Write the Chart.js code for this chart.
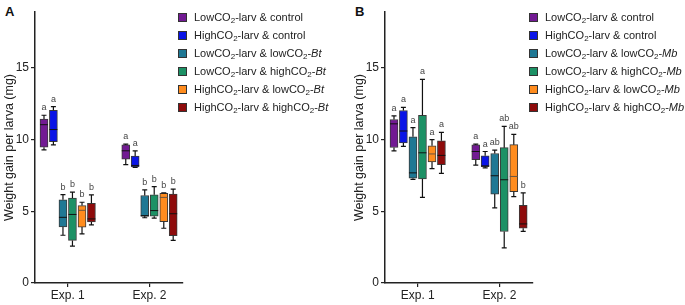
<!DOCTYPE html>
<html>
<head>
<meta charset="utf-8">
<script src="https://cdn.jsdelivr.net/npm/chart.js@4.4.0/dist/chart.umd.min.js"></script>
<style>
  body { margin: 0; background: #fff; font-family: "Liberation Sans", Arial, sans-serif; }
  #wrap { position: relative; width: 685px; height: 305px; overflow: hidden; }
  canvas { position: absolute; top: 0; }
  .tag { position: absolute; top: 4px; font-weight: bold; font-size: 13px; color: #111; }
  .legend { position: absolute; top: 8px; font-size: 11px; color: #222; }
  .legend div { height: 18px; line-height: 18px; white-space: nowrap; }
  .legend span.sq { display: inline-block; width: 7px; height: 7px; border: 1px solid #333; margin-right: 7px; vertical-align: -1px; }
  .legend sub { font-size: 8px; vertical-align: -2px; line-height: 0; }
</style>
</head>
<body>
<div id="wrap">
  <div class="tag" style="left:5px">A</div>
  <div class="tag" style="left:355px">B</div>
  <canvas id="chartA" width="195" height="305" style="left:0px"></canvas>
  <canvas id="chartB" width="195" height="305" style="left:350px"></canvas>
  <div class="legend" id="legA" style="left:178px"></div>
  <div class="legend" id="legB" style="left:529px"></div>
</div>
<script>
// categories and ticks
var categories = ["Exp. 1", "Exp. 2"];
var yTicks = [0, 5, 10, 15];
var yTitle = "Weight gain per larva (mg)";

// series (same order in both panels)
var seriesA = ["LowCO₂-larv & control", "HighCO₂-larv & control", "LowCO₂-larv & lowCO₂-Bt",
  "LowCO₂-larv & highCO₂-Bt", "HighCO₂-larv & lowCO₂-Bt", "HighCO₂-larv & highCO₂-Bt"];
var seriesB = ["LowCO₂-larv & control", "HighCO₂-larv & control", "LowCO₂-larv & lowCO₂-Mb",
  "LowCO₂-larv & highCO₂-Mb", "HighCO₂-larv & lowCO₂-Mb", "HighCO₂-larv & highCO₂-Mb"];
var colors = ["#721a93", "#0a14e6", "#1f7894", "#1c9165", "#ff8c1e", "#8e0b0b"];

// panel A box stats, one [Exp. 1, Exp. 2] pair per series
var aMin = [[9.28, 8.26], [9.63, 8.06], [3.33, 4.55], [2.57, 4.53], [3.43, 3.82], [4.05, 2.97]];
var aQ1  = [[9.47, 8.64], [9.86, 8.10], [3.91, 4.65], [2.97, 4.66], [3.90, 4.28], [4.26, 3.30]];
var aMed = [[11.04, 9.22], [10.7, 8.20], [4.58, 4.70], [4.78, 5.05], [5.07, 5.97], [4.47, 4.83]];
var aQ3  = [[11.44, 9.63], [12.04, 8.85], [5.80, 6.10], [5.92, 6.15], [5.40, 6.25], [5.56, 6.20]];
var aMax = [[11.7, 9.68], [12.3, 9.22], [6.16, 6.50], [6.34, 6.72], [5.63, 6.28], [6.14, 6.55]];
var aLetters = [["a", "a"], ["a", "a"], ["b", "b"], ["b", "b"], ["b", "b"], ["b", "b"]];

// panel B box stats
var bMin = [[9.22, 8.22], [9.53, 8.03], [7.23, 5.24], [5.97, 2.45], [7.97, 6.02], [7.65, 3.60]];
var bQ1  = [[9.45, 8.60], [9.77, 8.12], [7.31, 6.20], [7.25, 3.59], [8.44, 6.37], [8.26, 3.82]];
var bMed = [[11.1, 9.17], [10.6, 8.17], [7.68, 7.48], [9.08, 7.20], [9.00, 7.43], [8.90, 4.12]];
var bQ3  = [[11.4, 9.63], [12.03, 8.87], [10.2, 9.03], [11.7, 9.44], [9.57, 9.65], [9.92, 5.42]];
var bMax = [[11.66, 9.68], [12.25, 9.17], [10.83, 9.26], [14.2, 10.93], [10.0, 10.37], [10.5, 6.28]];
var bLetters = [["a", "a"], ["a", "a"], ["a", "ab"], ["a", "ab"], ["a", "ab"], ["a", "b"]];

var offsets = [-0.29, -0.175, -0.058, 0.058, 0.175, 0.29];

// whiskers, medians and letters drawn on top of the floating bars
var boxPlugin = {
  id: "boxPlugin",
  afterDatasetsDraw: function(chart) {
    var st = chart.options.plugins.boxPlugin;
    var xs = chart.scales.x, ys = chart.scales.y, ctx = chart.ctx;
    ctx.save();
    for (var i = 0; i < 6; i++) {
      for (var j = 0; j < 2; j++) {
        var x = xs.getPixelForValue(j + 1 + offsets[i]);
        var yMin = ys.getPixelForValue(st.min[i][j]);
        var yQ1 = ys.getPixelForValue(st.q1[i][j]);
        var yMed = ys.getPixelForValue(st.med[i][j]);
        var yQ3 = ys.getPixelForValue(st.q3[i][j]);
        var yMax = ys.getPixelForValue(st.max[i][j]);
        ctx.strokeStyle = "#111";
        ctx.lineWidth = 1.2;
        ctx.beginPath();
        ctx.moveTo(x, yQ3); ctx.lineTo(x, yMax);
        ctx.moveTo(x, yQ1); ctx.lineTo(x, yMin);
        ctx.moveTo(x - 2.5, yMax); ctx.lineTo(x + 2.5, yMax);
        ctx.moveTo(x - 2.5, yMin); ctx.lineTo(x + 2.5, yMin);
        ctx.stroke();
        ctx.strokeStyle = i == 4 ? "#6b5540" : "#111";
        ctx.lineWidth = 1;
        ctx.beginPath();
        ctx.moveTo(x - 4, yMed); ctx.lineTo(x + 4, yMed);
        ctx.stroke();
        ctx.fillStyle = "#444";
        ctx.font = "9px 'Liberation Sans', Arial, sans-serif";
        ctx.textAlign = "center";
        ctx.textBaseline = "alphabetic";
        ctx.fillText(st.letters[i][j], x, yMax - 5);
      }
    }
    ctx.restore();
  }
};

function makePanel(id, min, q1, med, q3, max, letters) {
  var datasets = [];
  for (var i = 0; i < 6; i++) {
    datasets.push({
      data: [{x: 1 + offsets[i], y: [q1[i][0], q3[i][0]]}, {x: 2 + offsets[i], y: [q1[i][1], q3[i][1]]}],
      backgroundColor: colors[i],
      borderColor: "#3a3a3a",
      borderWidth: 1,
      borderSkipped: false,
      barThickness: 8,
      grouped: false
    });
  }
  var axisFont = {family: "'Liberation Sans', Arial, sans-serif", size: 12};
  var titleFont = {family: "'Liberation Sans', Arial, sans-serif", size: 12.5};
  return new Chart(document.getElementById(id).getContext("2d"), {
    type: "bar",
    data: {datasets: datasets},
    options: {
      responsive: false,
      animation: false,
      layout: {padding: {top: 12, right: 12, left: 0, bottom: 0}},
      plugins: {
        legend: {display: false},
        tooltip: {enabled: false},
        boxPlugin: {min: min, q1: q1, med: med, q3: q3, max: max, letters: letters}
      },
      scales: {
        x: {
          type: "linear",
          offset: false,
          min: 0.6,
          max: 2.41,
          afterBuildTicks: function(s) { s.ticks = [{value: 1}, {value: 2}]; },
          afterFit: function(s) { s.height = 22; },
          ticks: {
            autoSkip: false,
            maxRotation: 0,
            padding: 1,
            color: "#222",
            font: axisFont,
            callback: function(v) { return categories[v - 1]; }
          },
          grid: {offset: false, drawOnChartArea: false, drawTicks: true, tickLength: 4, color: "#222", lineWidth: 1.2},
          border: {display: true, color: "#222", width: 1.5}
        },
        y: {
          min: 0,
          max: 18.9,
          afterBuildTicks: function(s) { s.ticks = yTicks.map(function(v) { return {value: v}; }); },
          afterFit: function(s) { s.width = 35; },
          ticks: {padding: 2, color: "#222", font: axisFont},
          grid: {drawOnChartArea: false, drawTicks: true, tickLength: 4, color: "#222", lineWidth: 1.2},
          border: {display: true, color: "#222", width: 1.5},
          title: {display: true, text: yTitle, color: "#222", font: titleFont, padding: {top: 2, bottom: 0}}
        }
      }
    },
    plugins: [boxPlugin]
  });
}

function makeLegend(id, names) {
  var html = "";
  for (var i = 0; i < names.length; i++) {
    var label = names[i].replace(/₂/g, "<sub>2</sub>").replace(/-(Bt|Mb)$/, "-<i>$1</i>");
    html += '<div><span class="sq" style="background:' + colors[i] + '"></span>' + label + "</div>";
  }
  document.getElementById(id).innerHTML = html;
}

makePanel("chartA", aMin, aQ1, aMed, aQ3, aMax, aLetters);
makePanel("chartB", bMin, bQ1, bMed, bQ3, bMax, bLetters);
makeLegend("legA", seriesA);
makeLegend("legB", seriesB);
</script>
</body>
</html>
